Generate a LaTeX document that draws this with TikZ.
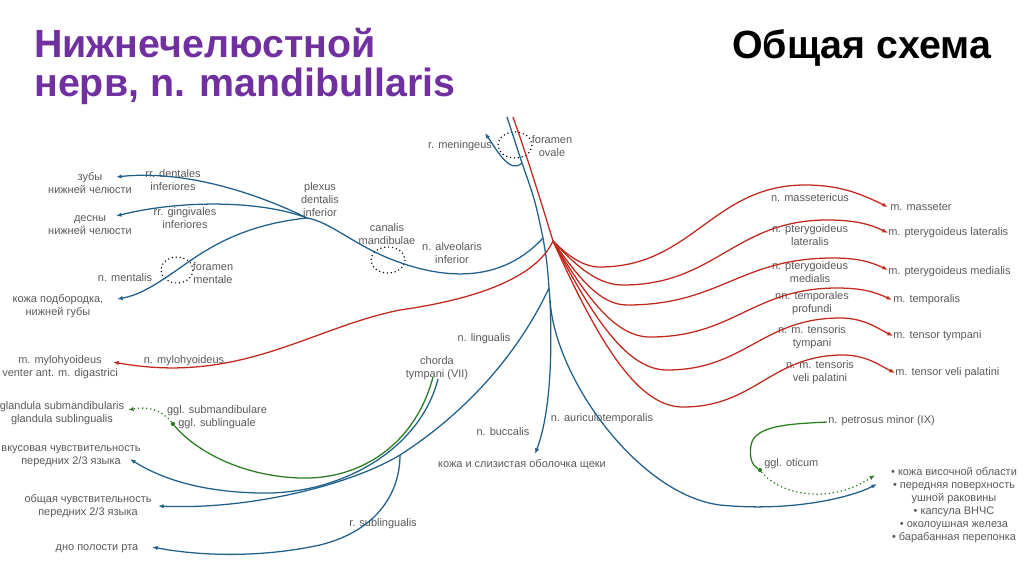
\documentclass[tikz,border=0pt]{standalone}
\usepackage{fontspec}
\setmainfont{Liberation Sans}
\usetikzlibrary{arrows.meta}

\definecolor{nblue}{HTML}{1F5F8B}
\definecolor{nred}{HTML}{C0281C}
\definecolor{ngreen}{HTML}{2A7D1E}
\definecolor{lblgray}{HTML}{595959}
\definecolor{titlepurple}{HTML}{7030A0}

\begin{document}
\begin{tikzpicture}[
    x=0.025cm, y=-0.025cm,
    every node/.style={font=\fontsize{7.8}{9.2}\selectfont, text=lblgray, inner sep=0pt, align=center},
    sensory/.style={draw=nblue, line width=0.9pt},
    motor/.style={draw=nred, line width=0.9pt},
    parasymp/.style={draw=ngreen, line width=0.9pt},
    nerveend/.style={-{Latex[length=4pt, width=3pt]}},
    foramen/.style={draw=black, dotted, line width=0.8pt},
    gangl/.style={circle, fill=ngreen, minimum size=3pt, inner sep=0pt}
]

    \path[use as bounding box] (0,0) rectangle (1024,574);

    % --------------------------------------------------------
    % 1. TITLES
    % --------------------------------------------------------

    \node (title) [anchor=north west, align=left, text=titlepurple, font=\fontsize{28}{27.5}\selectfont\bfseries] at (34,28) {Нижнечелюстной\\нерв, n. mandibullaris};
    \node (scheme) [anchor=north west, text=black, font=\fontsize{28}{27.5}\selectfont\bfseries] at (732,29) {Общая схема};

    % --------------------------------------------------------
    % 2. LABELS
    % --------------------------------------------------------

    % left side: targets of the branches
    \node (teeth) at (90,183) {зубы\\нижней челюсти};
    \node (gums) at (90,225) {десны\\нижней челюсти};
    \node (chin) at (58,306) {кожа подбородка,\\нижней губы};
    \node (mylomuscle) at (60,367) {m. mylohyoideus\\venter ant. m. digastrici};
    \node (glands) at (62,413) {glandula submandibularis\\glandula sublingualis};
    \node (taste) at (71,456) {вкусовая чувствительность\\передних 2/3 языка};
    \node (general) at (88,506) {общая чувствительность\\передних 2/3 языка};
    \node (floor) at (97,549) {дно полости рта};

    % branch names
    \node (dentales) at (173,180) {rr. dentales\\inferiores};
    \node (gingivales) at (185,218) {rr. gingivales\\inferiores};
    \node (mentalis) at (125,278) {n. mentalis};
    \node (formentale) at (213,273) {foramen\\mentale};
    \node (plexus) at (320,200) {plexus\\dentalis\\inferior};
    \node (canalis) at (387,234) {canalis\\mandibulae};
    \node (alveolaris) at (452,253) {n. alveolaris\\inferior};
    \node (meningeus) at (460,146) {r. meningeus};
    \node (forovale) at (552,146) {foramen\\ovale};
    \node (mylonerve) at (184,361) {n. mylohyoideus};
    \node (submgangl) at (217,417) {ggl. submandibulare\\ggl. sublinguale};
    \node (chorda) at (437,368) {chorda\\tympani (VII)};
    \node (lingualis) at (484,339) {n. lingualis};
    \node (sublingualis) at (383,524) {r. sublingualis};
    \node (buccalis) at (503,432) {n. buccalis};
    \node (cheek) at (522,465) {кожа и слизистая оболочка щеки};
    \node (auriculo) at (602,419) {n. auriculotemporalis};

    % right side: motor branches and muscles
    \node (nmasseter) at (810,198) {n. massetericus};
    \node (nptlat) at (810,235) {n. pterygoideus\\lateralis};
    \node (nptmed) at (810,272) {n. pterygoideus\\medialis};
    \node (ntemp) at (812,303) {nn. temporales\\profundi};
    \node (ntensty) at (812,337) {n. m. tensoris\\tympani};
    \node (ntensvp) at (820,372) {n. m. tensoris\\veli palatini};
    \node (mmasseter) [anchor=west] at (890,207) {m. masseter};
    \node (mptlat) [anchor=west] at (888,233) {m. pterygoideus lateralis};
    \node (mptmed) [anchor=west] at (888,272) {m. pterygoideus medialis};
    \node (mtemp) [anchor=west] at (893,300) {m. temporalis};
    \node (mtensty) [anchor=west] at (893,336) {m. tensor tympani};
    \node (mtensvp) [anchor=west] at (895,373) {m. tensor veli palatini};

    \node (petrosus) [anchor=west] at (828,421) {n. petrosus minor (IX)};
    \node (oticum) [anchor=west] at (764,464) {ggl. oticum};
    \node (temporal) at (954,505) {• кожа височной области\\• передняя поверхность\\ушной раковины\\• капсула ВНЧС\\• околоушная железа\\• барабанная перепонка};

    % ganglia
    \node (sublgangl) [gangl] at (173,424) {};
    \node (oticgangl) [gangl] at (760,470) {};

    % --------------------------------------------------------
    % 3. BRANCH POINTS AND ENDS
    % --------------------------------------------------------

    \coordinate (btop) at (507,117);
    \coordinate (rtop) at (513,117);
    \coordinate (meningbr) at (522,163);
    \coordinate (alvbr) at (543,238);
    \coordinate (fan) at (553,241);
    \coordinate (lingbr) at (549,288);
    \coordinate (aurbr) at (550,300);
    \coordinate (plexusbr) at (307,218);
    \coordinate (sublbr) at (400,455);
    \coordinate (chordab) at (438,379);
    \coordinate (chordag) at (433,377);
    \coordinate (petrosusend) at (827,422);

    \coordinate (tomeninx) at (485,133);
    \coordinate (toteeth) at (116,177);
    \coordinate (togums) at (116,216);
    \coordinate (tochin) at (117,299);
    \coordinate (tomylo) at (113,362);
    \coordinate (toglands) at (128,410);
    \coordinate (totaste) at (130,459);
    \coordinate (togeneral) at (158,506);
    \coordinate (tofloor) at (152,547);
    \coordinate (tocheek) at (535,454);
    \coordinate (totemporal) at (877,484);
    \coordinate (tootic) at (875,475);
    \coordinate (tomasseter) at (888,207);
    \coordinate (toptlat) at (888,233);
    \coordinate (toptmed) at (888,270);
    \coordinate (totemp) at (892,300);
    \coordinate (totensty) at (893,336);
    \coordinate (totensvp) at (895,373);

    % --------------------------------------------------------
    % 4. NERVES
    % --------------------------------------------------------

    % foramina (dotted rings)
    \draw [foramen] (515,145) ellipse (17 and 13);
    \draw [foramen] (388,260) ellipse (17 and 13);
    \draw [foramen] (177,270) ellipse (16 and 13);

    % trunk: sensory and motor roots
    \draw [sensory] (btop) .. controls (514,140) .. (meningbr) .. controls (535,200) .. (alvbr) .. controls (547,262) .. (lingbr) -- (aurbr);
    \draw [motor] (rtop) .. controls (530,165) and (545,215) .. (fan);
    \draw [sensory, nerveend] (meningbr) .. controls (510,174) and (498,152) .. (tomeninx);

    % n. alveolaris inferior and plexus
    \draw [sensory] (alvbr) .. controls (495,290) and (430,275) .. (388,258) .. controls (350,242) and (330,222) .. (plexusbr);
    \draw [sensory, nerveend] (plexusbr) .. controls (250,190) and (180,170) .. (toteeth);
    \draw [sensory, nerveend] (plexusbr) .. controls (260,200) and (180,200) .. (togums);
    \draw [sensory, nerveend] (plexusbr) .. controls (240,225) and (205,250) .. (177,270) .. controls (155,285) and (140,295) .. (tochin);

    % n. mylohyoideus
    \draw [motor, nerveend] (fan) .. controls (535,280) and (470,300) .. (400,310) .. controls (310,328) and (240,385) .. (tomylo);

    % n. lingualis, r. sublingualis
    \draw [sensory] (lingbr) .. controls (520,350) and (470,410) .. (sublbr);
    \draw [sensory, nerveend] (sublbr) .. controls (350,485) and (250,510) .. (togeneral);
    \draw [sensory, nerveend] (sublbr) .. controls (400,490) and (380,530) .. (320,545) .. controls (260,558) and (200,556) .. (tofloor);

    % chorda tympani
    \draw [sensory, nerveend] (chordab) .. controls (420,450) and (340,495) .. (260,493) .. controls (200,492) and (160,478) .. (totaste);
    \draw [parasymp] (chordag) .. controls (415,445) and (360,480) .. (300,478) .. controls (240,476) and (195,450) .. (sublgangl);
    \draw [parasymp, dotted, nerveend] (sublgangl) .. controls (162,410) and (148,406) .. (toglands);

    % n. buccalis, n. auriculotemporalis
    \draw [sensory, nerveend] (aurbr) .. controls (553,370) and (548,420) .. (tocheek);
    \draw [sensory, nerveend] (aurbr) .. controls (555,380) and (640,495) .. (720,505) .. controls (790,512) and (850,498) .. (totemporal);

    % motor fan to the muscles
    \draw [motor, nerveend] (fan) .. controls (569,257) and (584,267) .. (600,267) .. controls (692,267) and (713,185) .. (805,185) .. controls (842,185) and (863,195) .. (tomasseter);
    \draw [motor, nerveend] (fan) .. controls (577,267) and (598,285) .. (623,285) .. controls (715,285) and (735,220) .. (827,220) .. controls (854,220) and (870,224) .. (toptlat);
    \draw [motor, nerveend] (fan) .. controls (579,279) and (601,305) .. (627,305) .. controls (720,305) and (740,258) .. (833,258) .. controls (858,258) and (871,262) .. (toptmed);
    \draw [motor, nerveend] (fan) .. controls (587,299) and (616,337) .. (650,337) .. controls (734,337) and (753,288) .. (837,288) .. controls (862,288) and (875,292) .. (totemp);
    \draw [motor, nerveend] (fan) .. controls (593,318) and (627,370) .. (667,370) .. controls (745,370) and (762,318) .. (840,318) .. controls (864,318) and (877,328) .. (totensty);
    \draw [motor, nerveend] (fan) .. controls (598,341) and (637,407) .. (683,407) .. controls (755,407) and (771,355) .. (843,355) .. controls (866,355) and (879,365) .. (totensvp);

    % n. petrosus minor, ggl. oticum
    \draw [parasymp] (petrosusend) .. controls (790,424) and (755,425) .. (751,445) .. controls (749,458) and (752,465) .. (oticgangl);
    \draw [parasymp, dotted, nerveend] (oticgangl) .. controls (780,495) and (830,505) .. (tootic);

\end{tikzpicture}
\end{document}
